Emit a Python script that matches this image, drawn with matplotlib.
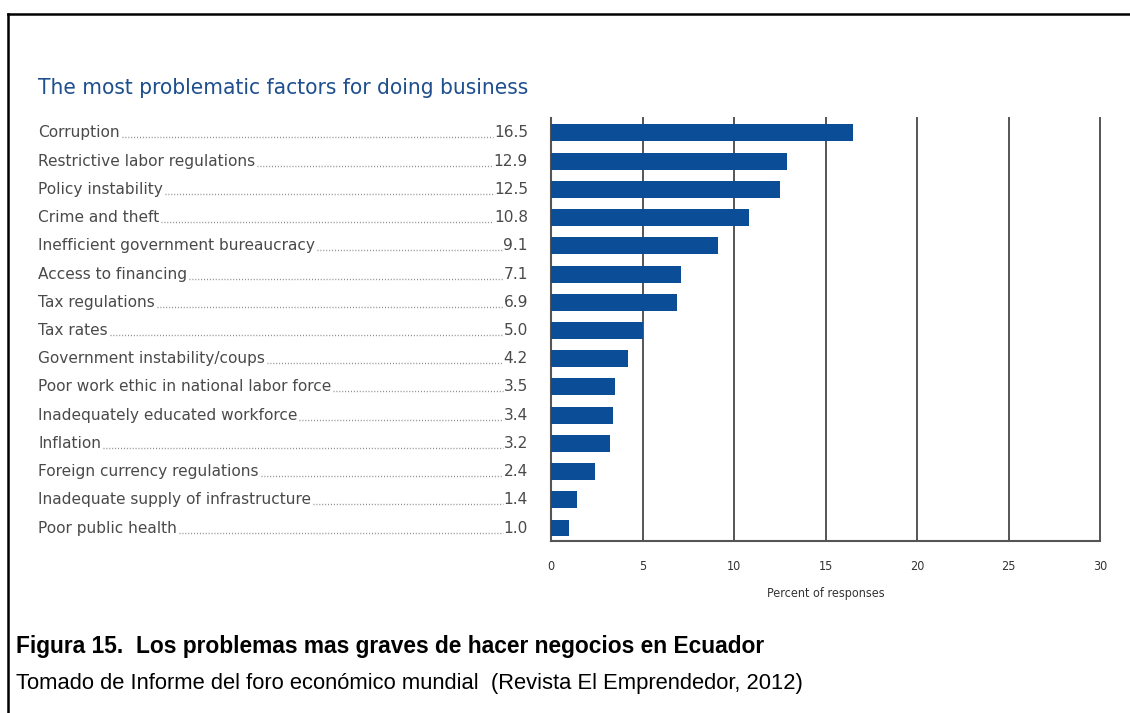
import matplotlib.pyplot as plt
from matplotlib.lines import Line2D
from matplotlib.transforms import blended_transform_factory

# factores y porcentaje de respuestas
factors = [
    "Corruption",
    "Restrictive labor regulations",
    "Policy instability",
    "Crime and theft",
    "Inefficient government bureaucracy",
    "Access to financing",
    "Tax regulations",
    "Tax rates",
    "Government instability/coups",
    "Poor work ethic in national labor force",
    "Inadequately educated workforce",
    "Inflation",
    "Foreign currency regulations",
    "Inadequate supply of infrastructure",
    "Poor public health",
]
percent = [16.5, 12.9, 12.5, 10.8, 9.1, 7.1, 6.9, 5.0, 4.2, 3.5, 3.4, 3.2, 2.4, 1.4, 1.0]
xticks = [0, 5, 10, 15, 20, 25, 30]

W, H = 1130, 713
fig = plt.figure(figsize=(W / 100, H / 100), dpi=100)
fig.patch.set_facecolor("white")

ax = fig.add_axes([551 / W, 1 - 541 / H, (1100 - 551) / W, (541 - 118) / H])
y = list(range(len(factors)))
ax.barh(y, percent, height=0.6, color="#0c4d98", zorder=3)
ax.set_ylim(len(factors) - 0.54, -0.53)
ax.set_xlim(0, 30)
ax.set_xticks(xticks)
ax.set_xticklabels([str(t) for t in xticks], family="DejaVu Sans", fontstretch="condensed",
                   fontsize=9, color="#333333")
ax.set_yticks([])
ax.tick_params(axis="x", length=0, pad=14)
ax.grid(axis="x", color="#555555", linewidth=1.4, zorder=1)
for g in ax.get_xgridlines():
    g.set_clip_on(False)
for s in ["top", "right"]:
    ax.spines[s].set_visible(False)
for s in ["left", "bottom"]:
    ax.spines[s].set_color("#555555")
    ax.spines[s].set_linewidth(1.5)
ax.set_xlabel("Percent of responses", family="DejaVu Sans", fontstretch="condensed",
              fontsize=9, color="#333333", labelpad=10)

# etiquetas a la izquierda con puntos guía hasta el valor
tr = blended_transform_factory(fig.transFigure, ax.transData)
renderer = fig.canvas.get_renderer()
x_lab = 38 / W
x_val = 528 / W
for i, (name, v) in enumerate(zip(factors, percent)):
    t1 = ax.text(x_lab, i, name, transform=tr, ha="left", va="center",
                 fontsize=11.1, color="#4a4a4a", family="DejaVu Sans")
    t2 = ax.text(x_val, i, f"{v:.1f}", transform=tr, ha="right", va="center",
                 fontsize=11.1, color="#4a4a4a", family="DejaVu Sans")
    b1 = t1.get_window_extent(renderer)
    b2 = t2.get_window_extent(renderer)
    yb = b1.y0 + 3
    fig.add_artist(Line2D([(b1.x1 + 2) / W, (b2.x0 - 1) / W], [yb / H, yb / H],
                          transform=fig.transFigure, color="#888888", linewidth=1.0,
                          linestyle=(0, (0.7, 1.4))))

fig.text(38 / W, 1 - 88 / H, "The most problematic factors for doing business",
         family="DejaVu Sans", fontstretch="condensed", fontsize=16.2,
         color="#1f4f8f", ha="left", va="center")

fig.text(16 / W, 1 - 647 / H, "Figura 15.  Los problemas mas graves de hacer negocios en Ecuador",
         family="Liberation Sans", fontsize=16.4, fontweight="bold", color="black",
         ha="left", va="center")
fig.text(16 / W, 1 - 683 / H, "Tomado de Informe del foro económico mundial  (Revista El Emprendedor, 2012)",
         family="Liberation Sans", fontsize=15.8, color="black", ha="left", va="center")

# marco superior e izquierdo
fig.add_artist(Line2D([8 / W, 1], [1 - 14 / H, 1 - 14 / H], transform=fig.transFigure,
                      color="black", linewidth=1.8))
fig.add_artist(Line2D([8 / W, 8 / W], [1 - 14 / H, 0], transform=fig.transFigure,
                      color="black", linewidth=1.8))

fig.savefig("out.png", dpi=100)
